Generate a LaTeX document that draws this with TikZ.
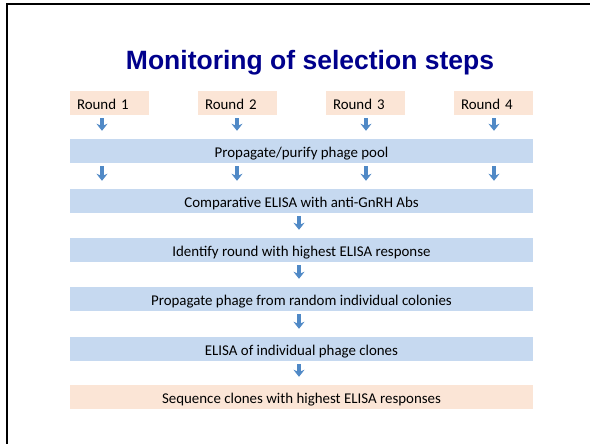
\documentclass[tikz,border=0pt]{standalone}
\usepackage{fontspec}
\setmainfont{Carlito}
\newfontfamily\titlefont{Liberation Sans}
\usetikzlibrary{arrows.meta}
\definecolor{peach}{HTML}{FBE5D6}
\definecolor{barblue}{HTML}{C6D9F0}
\definecolor{arrblue}{HTML}{5089C6}
\definecolor{titleblue}{HTML}{00008C}
\begin{document}
\begin{tikzpicture}[x=1pt,y=-1pt,
  txt/.style={font=\fontsize{14.9}{17}\selectfont, text height=12.4pt, text depth=0pt},
  roundbox/.style={txt, fill=peach, text width=65pt, align=left, inner xsep=7pt, inner ysep=0pt, minimum height=24pt},
  bar/.style={txt, fill=barblue, minimum width=463pt, minimum height=24pt, inner sep=0pt},
  peachbar/.style={bar, fill=peach},
  arr/.style={draw=arrblue, line width=3.3pt, -{Stealth[length=7pt,width=11pt,inset=2.2pt]}, shorten <=3pt, shorten >=8pt}]
\useasboundingbox (0,0) rectangle (590,444);
\draw[line width=2pt] (7,445) -- (7,4) -- (591,4);
\node[font=\titlefont\bfseries\fontsize{26.5}{30}\selectfont, text=titleblue, anchor=base] (title) at (310,70) {Monitoring of selection steps};
\node[roundbox] (r1) at (109.5,103) {Round 1};
\node[roundbox] (r2) at (237.5,103) {Round 2};
\node[roundbox] (r3) at (365.5,103) {Round 3};
\node[roundbox] (r4) at (493.5,103) {Round 4};
\node[bar] (b1) at (301.5,151) {Propagate/purify phage pool};
\node[bar] (b2) at (301.5,201) {Comparative ELISA with anti-GnRH Abs};
\node[bar] (b3) at (301.5,250) {Identify round with highest ELISA response};
\node[bar] (b4) at (301.5,299) {Propagate phage from random individual colonies};
\node[bar] (b5) at (301.5,349) {ELISA of individual phage clones};
\node[peachbar] (b6) at (301.5,397) {Sequence clones with highest ELISA responses};
\coordinate (c1) at (102,0);
\coordinate (c2) at (237,0);
\coordinate (c3) at (366,0);
\coordinate (c4) at (494,0);
\coordinate (cm) at (299,0);
\draw[arr] (c1 |- r1.south) -- (c1 |- b1.north);
\draw[arr] (c2 |- r2.south) -- (c2 |- b1.north);
\draw[arr] (c3 |- r3.south) -- (c3 |- b1.north);
\draw[arr] (c4 |- r4.south) -- (c4 |- b1.north);
\draw[arr] (c1 |- b1.south) -- (c1 |- b2.north);
\draw[arr] (c2 |- b1.south) -- (c2 |- b2.north);
\draw[arr] (c3 |- b1.south) -- (c3 |- b2.north);
\draw[arr] (c4 |- b1.south) -- (c4 |- b2.north);
\draw[arr] (cm |- b2.south) -- (cm |- b3.north);
\draw[arr] (cm |- b3.south) -- (cm |- b4.north);
\draw[arr] (cm |- b4.south) -- (cm |- b5.north);
\draw[arr] (cm |- b5.south) -- (cm |- b6.north);
\end{tikzpicture}
\end{document}
